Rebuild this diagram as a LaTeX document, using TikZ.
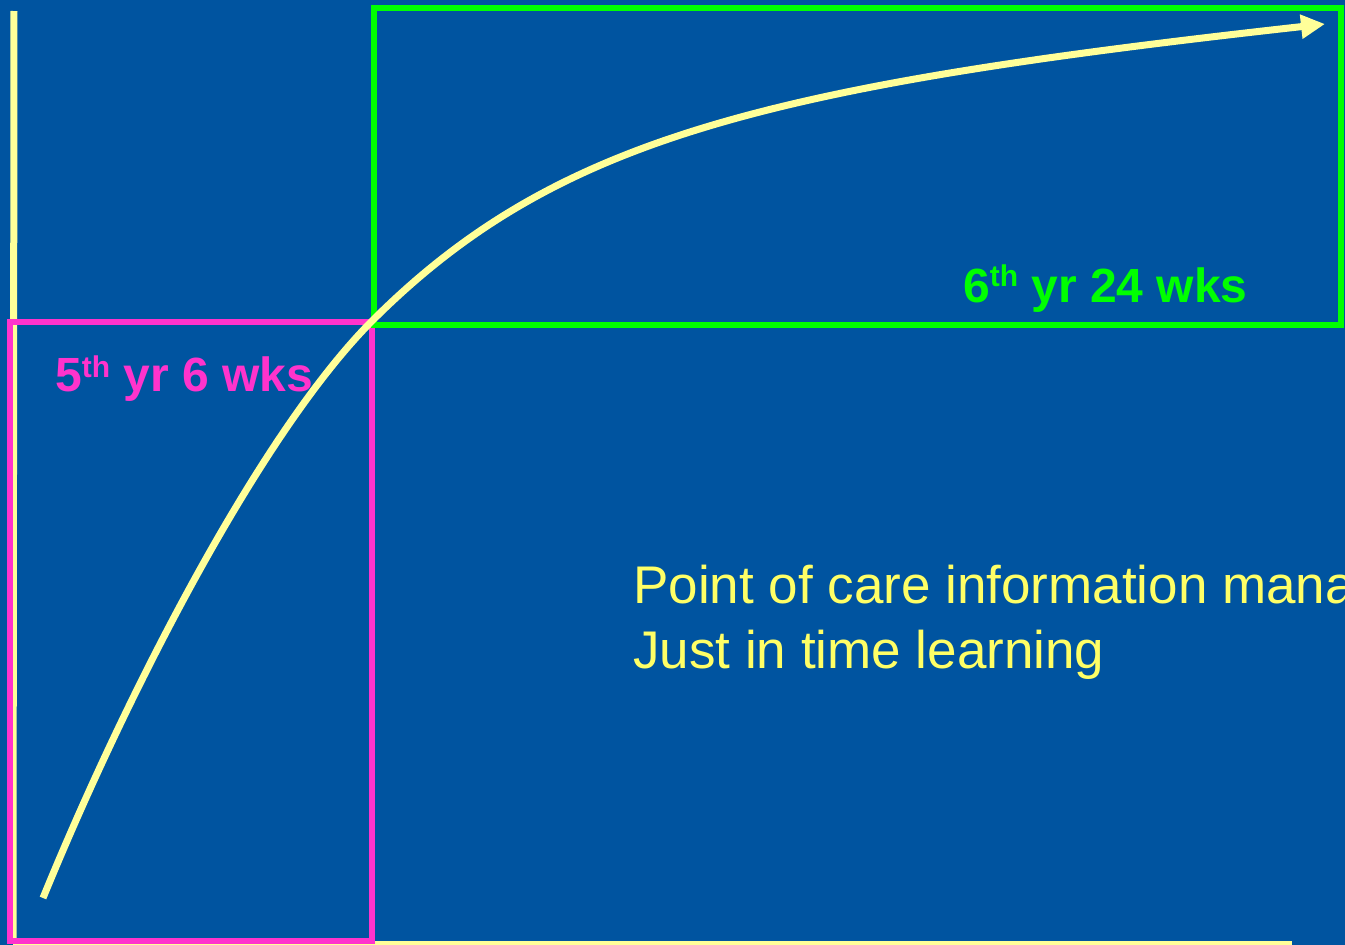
\documentclass[tikz,border=0pt]{standalone}
\usepackage{fontspec}
\setmainfont{Liberation Sans}
\usetikzlibrary{arrows.meta}
\definecolor{slideblue}{RGB}{0,84,160}
\definecolor{axisyellow}{RGB}{255,255,153}
\definecolor{textyellow}{RGB}{255,255,102}
\definecolor{phasepink}{RGB}{255,51,204}
\definecolor{phasegreen}{RGB}{0,255,0}
\tikzset{
  axisline/.style={draw=axisyellow, line width=7pt},
  phasebox/.style={line width=6pt},
  phaselabel/.style={font=\bfseries\fontsize{48}{50}\selectfont, inner sep=0pt, anchor=base west},
  bodytext/.style={text=textyellow, font=\fontsize{53}{65}\selectfont, inner sep=0pt, anchor=base west},
  growth/.style={draw=axisyellow, line width=7pt, -{Triangle[length=24pt,width=23pt]}}
}
\newcommand{\ordsup}[2]{\raisebox{#1}{\fontsize{30}{30}\selectfont #2}}
\begin{document}
\begin{tikzpicture}[x=1pt, y=-1pt]
  \useasboundingbox (0,0) rectangle (1345,945);
  \clip (0,0) rectangle (1345,945);
  \fill[slideblue] (0,0) rectangle (1345,945);

  % axes
  \draw[axisline] (14,11) -- (13,938);
  \draw[axisline, line width=6pt] (13,944) -- (1292,944);

  % phase boxes
  \draw[phasebox, draw=phasepink] (10,322) rectangle (372,941);
  \draw[phasebox, draw=phasegreen] (374,8) rectangle (1341,325);

  % learning curve: steep rise, then levelling off
  \coordinate (start) at (43,898);
  \coordinate (knee) at (372,321);
  \coordinate (tip) at (1325,24);
  \draw[growth] (start) .. controls (134,676) and (266,427) .. (knee)
                        .. controls (556,137) and (768,86) .. (tip);

  % labels
  \node[phaselabel, text=phasepink] (fifth) at (55,391) {5\ordsup{14pt}{th} yr 6 wks};
  \node[phaselabel, text=phasegreen] (sixth) at (963,302) {6\ordsup{16pt}{th} yr 24 wks};
  \node[bodytext] (poc) at (633,603) {Point of care information management};
  \node[bodytext] (jit) at (633,668) {Just in time learning};
\end{tikzpicture}
\end{document}
